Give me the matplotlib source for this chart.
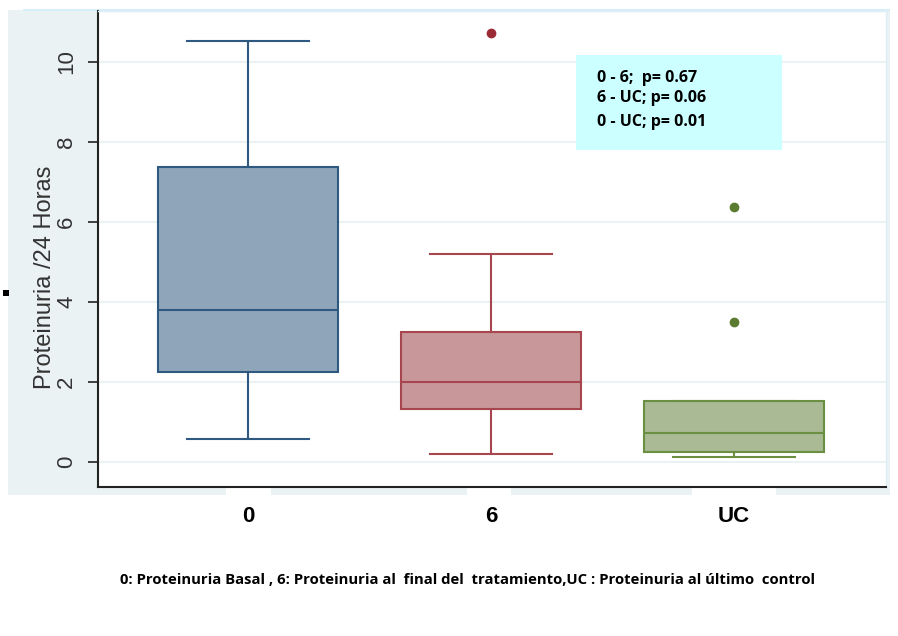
import matplotlib
matplotlib.use('Agg')
import matplotlib.pyplot as plt
from matplotlib.patches import Rectangle

# datos
grupos = ['0', '6', 'UC']
q1 = [2.25, 1.32, 0.25]
mediana = [3.80, 2.00, 0.72]
q3 = [7.37, 3.25, 1.52]
bigote_inf = [0.57, 0.20, 0.12]
bigote_sup = [10.52, 5.20, 1.52]
atipicos = [[], [10.72], [6.37, 3.50]]

relleno = ['#8FA5B9', '#C8979A', '#A9BA95']
borde = ['#2E5A82', '#A84650', '#6A8F40']
punto = ['#2E5A82', '#9B2B35', '#5A7B30']

pvalores = ['0 - 6;  p= 0.67', '6 - UC; p= 0.06', '0 - UC; p= 0.01']
nota = '0: Proteinuria Basal , 6: Proteinuria al  final del  tratamiento,UC : Proteinuria al último  control'

W, H = 898, 636
fig = plt.figure(figsize=(W / 100, H / 100), dpi=100)

def px(x, y, w, h, z=-1, **kw):
    # rectangulo en pixeles de la figura (origen arriba a la izquierda)
    fig.patches.append(Rectangle((x / W, 1 - (y + h) / H), w / W, h / H,
                                 transform=fig.transFigure, zorder=z, **kw))

# fondo gris de la region del grafico
px(8, 10, 882, 485, facecolor='#EAF2F3', edgecolor='none')
# huecos blancos bajo las etiquetas
for x0, x1 in [(226, 271), (467, 511), (692, 776)]:
    px(x0, 488, x1 - x0, 8, facecolor='white', edgecolor='none')
# cuadradito negro a la izquierda
px(3, 290, 6, 6, facecolor='black', edgecolor='none')
# linea celeste arriba
px(23, 9, 867, 1.5, facecolor='#D6EEF8', edgecolor='none')

ax = fig.add_axes([98 / W, 1 - 487 / H, (886 - 98) / W, (487 - 11) / H])
ax.set_facecolor('white')
ax.set_zorder(0)

stats = []
for i in range(3):
    stats.append(dict(q1=q1[i], med=mediana[i], q3=q3[i],
                      whislo=bigote_inf[i], whishi=bigote_sup[i],
                      fliers=atipicos[i]))

pos = [1, 2, 3]
for i in range(3):
    ax.bxp([stats[i]], positions=[pos[i]], widths=0.74, patch_artist=True,
           showfliers=True, manage_ticks=False,
           boxprops=dict(facecolor=relleno[i], edgecolor=borde[i], linewidth=1.5),
           medianprops=dict(color=borde[i], linewidth=1.5),
           whiskerprops=dict(color=borde[i], linewidth=1.5),
           capprops=dict(color=borde[i], linewidth=1.5),
           capwidths=0.5,
           flierprops=dict(marker='o', markersize=6, markerfacecolor=punto[i],
                           markeredgecolor=punto[i]))

ax.set_xlim(0.383, 3.626)
ax.set_ylim(-0.625, 11.275)
ax.set_yticks([0, 2, 4, 6, 8, 10])
ax.set_yticklabels(['0', '2', '4', '6', '8', '10'], rotation=90, va='center',
                   fontsize=16, color='#333333', family='Liberation Sans')
ax.tick_params(axis='y', length=7, width=1.2, pad=8, color='#222222')
ax.yaxis.grid(True, color='#EAF2F3', linewidth=1.5)
ax.set_axisbelow(True)

ax.set_xticks(pos)
ax.set_xticklabels(grupos, fontsize=16, fontweight='bold', family='Liberation Sans')
ax.tick_params(axis='x', length=0, pad=14)

ax.set_ylabel('Proteinuria /24 Horas', fontsize=17, color='#333333',
              family='Liberation Sans')
ax.yaxis.set_label_coords(-0.053, 0.441)

for s in ['top', 'right']:
    ax.spines[s].set_color('#DDEFF5')
    ax.spines[s].set_linewidth(1)
for s in ['left', 'bottom']:
    ax.spines[s].set_color('#222222')
    ax.spines[s].set_linewidth(1.5)

# recuadro de valores p
px(576, 55, 206, 95, z=2, facecolor='#CCFFFF', edgecolor='none')
for t, y in zip(pvalores, [78, 98, 122]):
    fig.text(597 / W, 1 - y / H, t, fontsize=11.5, fontweight='bold',
             family='Open Sans', va='center', ha='left', zorder=3)

fig.text(467 / W, 1 - 580 / H, nota, fontsize=10.7, fontweight='bold',
         family='Open Sans', ha='center', va='center')

fig.savefig('out.png', dpi=100)
